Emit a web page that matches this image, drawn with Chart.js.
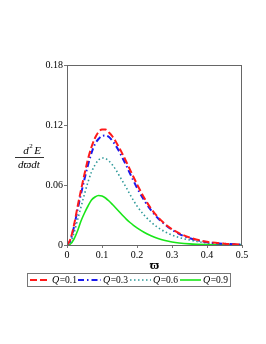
<!DOCTYPE html>
<html><head><meta charset="utf-8">
<script src="https://cdn.jsdelivr.net/npm/chart.js@4.4.0/dist/chart.umd.min.js"></script>
<style>html,body{margin:0;padding:0;background:#fff;}</style>
</head><body>
<canvas id="c" width="266" height="344" style="display:block;width:266px;height:344px"></canvas>
<script>
// ---- data ----
const xValues = [0,0.01,0.02,0.03,0.04,0.05,0.06,0.07,0.08,0.09,0.10,0.11,0.12,0.13,0.14,0.15,0.16,0.17,0.18,0.19,0.20,0.22,0.24,0.26,0.28,0.30,0.32,0.35,0.40,0.45,0.50];
const q01 = [0,0.006,0.020,0.038,0.055,0.071,0.086,0.098,0.107,0.113,0.1155,0.1155,0.1125,0.1085,0.1030,0.0968,0.0900,0.0828,0.0754,0.0680,0.0608,0.0475,0.0365,0.0278,0.0210,0.0158,0.0118,0.0075,0.0032,0.0013,0.0005];
const q03 = [0,0.005,0.018,0.035,0.051,0.066,0.080,0.092,0.101,0.106,0.109,0.1095,0.108,0.104,0.099,0.093,0.086,0.079,0.0715,0.0642,0.0572,0.0450,0.0348,0.0268,0.0205,0.0152,0.0112,0.0068,0.0028,0.0012,0.0005];
const q06 = [0,0.003,0.012,0.025,0.038,0.051,0.063,0.073,0.080,0.085,0.087,0.0865,0.084,0.080,0.075,0.069,0.063,0.057,0.0505,0.0445,0.0390,0.0300,0.0230,0.0175,0.0132,0.0099,0.0075,0.0050,0.0020,0.0008,0.0003];
const q09 = [0,0.001,0.006,0.014,0.024,0.032,0.039,0.045,0.048,0.0495,0.049,0.047,0.044,0.0405,0.0368,0.0330,0.0292,0.0257,0.0225,0.0197,0.0172,0.0128,0.0093,0.0065,0.0045,0.0030,0.0020,0.0011,0.0004,0.0002,0.0001];
const seriesLabels = ['Q=0.1','Q=0.3','Q=0.6','Q=0.9'];
const xTicks = [0,0.1,0.2,0.3,0.4,0.5];
const yTicks = [0,0.06,0.12,0.18];
const xTitle = '\u03D6';
const yTitleNum = ['d','2','E'];
const yTitleDen = 'd\u03D6dt';

// ---- styles ----
const seriesValues = [q01,q03,q06,q09];
const colors = ['#ff1a1a','#1a1aee','#2e9999','#19e619'];
const dashes = [[7,3],[6,3,1.5,3],[1.5,2.5],[]];
const widths = [2,2,1.6,1.6];
const FONT = '"Liberation Serif","Times New Roman",serif';

const datasets = seriesValues.map((arr,i)=>({
  label: seriesLabels[i],
  data: xValues.map((x,j)=>({x:x,y:arr[j]})),
  borderColor: colors[i],
  borderDash: dashes[i],
  borderWidth: widths[i],
  pointRadius: 0,
  fill: false,
  cubicInterpolationMode: 'monotone',
  borderCapStyle: 'butt'
}));

const decor = {
  id:'decor',
  afterDatasetsDraw(chart){
    const ctx = chart.ctx, a = chart.chartArea;
    ctx.save();
    ctx.strokeStyle = '#666'; ctx.lineWidth = 1; ctx.setLineDash([]);
    ctx.strokeRect(Math.round(a.left)+0.5, Math.round(a.top)+0.5, Math.round(a.right-a.left)-1, Math.round(a.bottom-a.top));
    ctx.restore();
  },
  afterDraw(chart){
    const ctx = chart.ctx, a = chart.chartArea;
    ctx.save();
    ctx.fillStyle = '#000';
    // x title
    ctx.font = 'bold 13px ' + FONT;
    ctx.textAlign = 'center'; ctx.textBaseline = 'middle';
    ctx.fillText(xTitle, (a.left+a.right)/2, 266);
    // y title fraction
    const cx = 30;
    ctx.textAlign = 'left'; ctx.textBaseline = 'alphabetic';
    ctx.font = 'italic 11px ' + FONT;
    const wd = ctx.measureText(yTitleNum[0]).width;
    const wE = ctx.measureText(yTitleNum[2]).width;
    ctx.font = '7px ' + FONT;
    const w2 = ctx.measureText(yTitleNum[1]).width;
    const tot = wd + w2 + 2 + wE;
    let x0 = cx + 2 - tot/2;
    ctx.font = 'italic 11px ' + FONT;
    ctx.fillText(yTitleNum[0], x0, 154);
    ctx.font = '7px ' + FONT;
    ctx.fillText(yTitleNum[1], x0 + wd + 0.5, 148);
    ctx.font = 'italic 11px ' + FONT;
    ctx.fillText(yTitleNum[2], x0 + wd + w2 + 2, 154);
    ctx.fillRect(15, 157, 29, 0.8);
    ctx.textAlign = 'center';
    ctx.fillText(yTitleDen, cx - 1, 168);
    // legend
    ctx.strokeStyle = '#777'; ctx.lineWidth = 1;
    ctx.strokeRect(27.5, 273.5, 203, 13);
    const lx = [[30,50,52],[78,101,103],[130,151,153],[180,201,203]];
    chart.data.datasets.forEach((ds,i)=>{
      ctx.strokeStyle = ds.borderColor; ctx.lineWidth = ds.borderWidth;
      ctx.setLineDash(ds.borderDash);
      ctx.beginPath(); ctx.moveTo(lx[i][0], 280); ctx.lineTo(lx[i][1], 280); ctx.stroke();
      ctx.setLineDash([]);
      const lab = ds.label;
      ctx.fillStyle = '#000'; ctx.textAlign='left'; ctx.textBaseline='middle';
      ctx.font = 'italic 10px ' + FONT;
      ctx.fillText(lab[0], lx[i][2], 280.5);
      const wq = ctx.measureText(lab[0]).width;
      ctx.font = '9.5px ' + FONT;
      ctx.fillText(lab.slice(1), lx[i][2] + wq + 0.5, 280.5);
    });
    ctx.restore();
  }
};

new Chart(document.getElementById('c'), {
  type: 'line',
  data: { datasets },
  options: {
    responsive: false,
    animation: false,
    events: [],
    layout: { padding: { top: 65, left: 0, right: 24, bottom: 77 } },
    plugins: { legend: { display:false }, tooltip: { enabled:false }, title: { display:false } },
    scales: {
      x: {
        type: 'linear', min: 0, max: 0.5,
        afterBuildTicks: s => { s.ticks = xTicks.map(v=>({value:v})); },
        afterFit: s => { s.height = 22; },
        border: { display:false },
        grid: { display:true, drawOnChartArea:false, drawTicks:true, tickLength:3, color:'#777' },
        ticks: { padding: 1, color:'#000', font:{ family: FONT, size: 10 }, maxRotation:0,
          callback: v => v===0 ? '0' : String(v) }
      },
      y: {
        type: 'linear', min: 0, max: 0.18,
        afterBuildTicks: s => { s.ticks = yTicks.map(v=>({value:v})); },
        afterFit: s => { s.width = 67; },
        border: { display:false },
        grid: { display:true, drawOnChartArea:false, drawTicks:true, tickLength:3, color:'#777' },
        ticks: { padding: 1, color:'#000', font:{ family: FONT, size: 10 },
          callback: v => v===0 ? '0' : String(v) }
      }
    }
  },
  plugins: [decor]
});
</script>
</body></html>
